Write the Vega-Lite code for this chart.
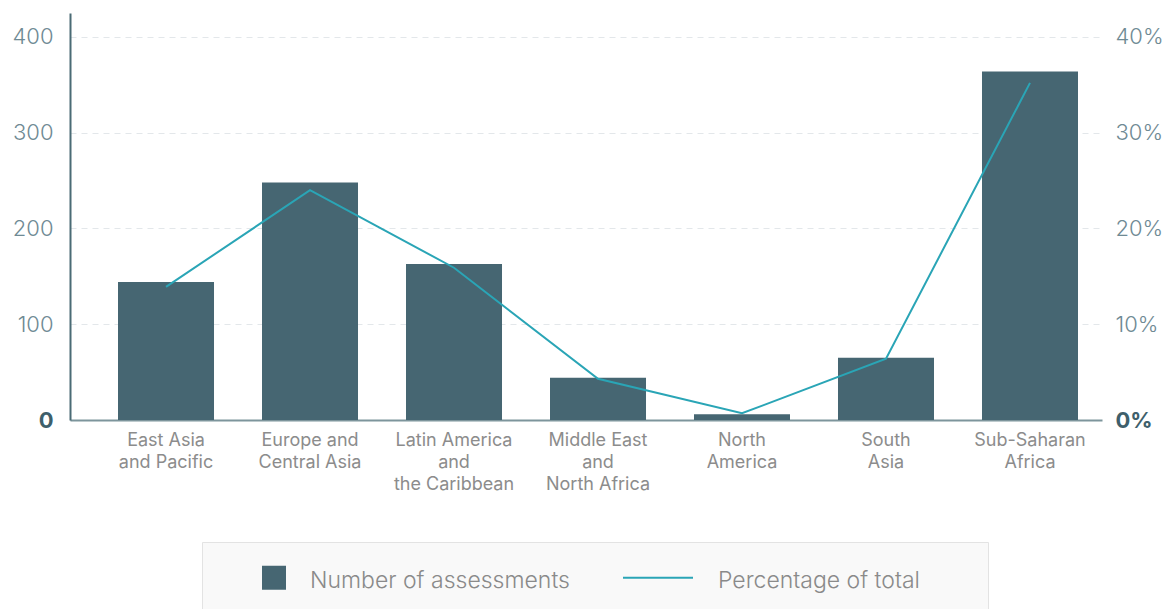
{
  "$schema": "https://vega.github.io/schema/vega-lite/v6.json",
  "autosize": {"type": "none"},
  "padding": {"left": 70, "top": 13, "right": 63, "bottom": 189},
  "width": 1032,
  "height": 407,
  "background": "#ffffff",
  "config": {
    "view": {"stroke": null},
    "font": "Inter",
    "axis": {"labelFont": "Inter", "titleFont": "Inter"},
    "legend": {"labelFont": "Inter"}
  },
  "data": {
    "values": [
      {"region": "East Asia and Pacific", "count": 144, "pct": 0.139},
      {"region": "Europe and Central Asia", "count": 248, "pct": 0.240},
      {"region": "Latin America and the Caribbean", "count": 163, "pct": 0.159},
      {"region": "Middle East and North Africa", "count": 44, "pct": 0.043},
      {"region": "North America", "count": 6, "pct": 0.007},
      {"region": "South Asia", "count": 65, "pct": 0.064},
      {"region": "Sub-Saharan Africa", "count": 364, "pct": 0.352}
    ]
  },
  "encoding": {
    "x": {
      "field": "region",
      "type": "nominal",
      "sort": null,
      "scale": {"paddingInner": 0.3333, "paddingOuter": 0.25, "align": 0.6667},
      "axis": {
        "title": null,
        "labelAngle": 0,
        "ticks": false,
        "domain": true,
        "domainColor": "#7d959c",
        "domainWidth": 2,
        "labelFontSize": 18,
        "labelColor": "#8c8c8c",
        "labelLineHeight": 22,
        "labelPadding": 11,
        "labelBaseline": "top",
        "labelLimit": 400,
        "labelExpr": "datum.label == 'East Asia and Pacific' ? ['East Asia','and Pacific'] : datum.label == 'Europe and Central Asia' ? ['Europe and','Central Asia'] : datum.label == 'Latin America and the Caribbean' ? ['Latin America','and','the Caribbean'] : datum.label == 'Middle East and North Africa' ? ['Middle East','and','North Africa'] : datum.label == 'North America' ? ['North','America'] : datum.label == 'South Asia' ? ['South','Asia'] : ['Sub-Saharan','Africa']"
      }
    }
  },
  "layer": [
    {
      "mark": {"type": "bar", "color": "#466672"},
      "encoding": {
        "y": {
          "field": "count",
          "type": "quantitative",
          "scale": {"domain": [0, 425], "nice": false},
          "axis": {
            "title": null,
            "orient": "left",
            "values": [0, 100, 200, 300, 400],
            "ticks": false,
            "domain": true,
            "domainColor": "#4a6b75",
            "domainWidth": 2,
            "grid": true,
            "gridColor": "#e3e7ea",
            "gridDash": [6, 5],
            "gridWidth": 1,
            "labelFontSize": 22,
            "labelPadding": 17,
            "labelColor": {"condition": {"test": "datum.value === 0", "value": "#3e5f6b"}, "value": "#6f8a94"},
            "labelFontWeight": {"condition": {"test": "datum.value === 0", "value": "bold"}, "value": 300}
          }
        },
        "color": {
          "datum": "Number of assessments",
          "type": "nominal",
          "scale": {"domain": ["Number of assessments", "Percentage of total"], "range": ["#466672", "#2aa5b6"]},
          "legend": {
            "title": "\u00a0",
            "titleOrient": "right",
            "titlePadding": 44,
            "titleFontSize": 10,
            "orient": "none",
            "legendX": 132,
            "legendY": 529,
            "direction": "horizontal",
            "fillColor": "#f9f9f9",
            "strokeColor": "#e3e3e3",
            "padding": 24,
            "labelFontSize": 23,
            "labelColor": "#8a8a8a",
            "labelFontWeight": 300,
            "labelLimit": 500,
            "columnPadding": 49,
            "symbolSize": 576,
            "labelOffset": 24,
            "encode": {
              "symbols": {
                "update": {
                  "shape": {"signal": "datum.value === 'Percentage of total' ? 'stroke' : 'square'"},
                  "size": {"signal": "datum.value === 'Percentage of total' ? 4900 : 576"},
                  "x": {"signal": "datum.value === 'Percentage of total' ? 35 : 48"},
                  "fill": {"signal": "datum.value === 'Percentage of total' ? 'transparent' : '#466672'"},
                  "stroke": {"signal": "datum.value === 'Percentage of total' ? '#2aa5b6' : 'transparent'"},
                  "strokeWidth": {"signal": "datum.value === 'Percentage of total' ? 2 : 0"},
                  "opacity": {"value": 1}
                }
              },
              "labels": {
                "update": {
                  "x": {"signal": "datum.value === 'Percentage of total' ? 95 : 84"},
                  "dy": {"value": 3}
                }
              }
            }
          }
        }
      }
    },
    {
      "mark": {"type": "line", "strokeWidth": 2},
      "encoding": {
        "y": {
          "field": "pct",
          "type": "quantitative",
          "scale": {"domain": [0, 0.425], "nice": false},
          "axis": {
            "title": null,
            "orient": "right",
            "values": [0, 0.1, 0.2, 0.3, 0.4],
            "format": ".0%",
            "ticks": false,
            "domain": false,
            "grid": false,
            "labelFontSize": 22,
            "labelPadding": 13,
            "labelColor": {"condition": {"test": "datum.value === 0", "value": "#3e5f6b"}, "value": "#6f8a94"},
            "labelFontWeight": {"condition": {"test": "datum.value === 0", "value": "bold"}, "value": 300}
          }
        },
        "color": {"datum": "Percentage of total", "type": "nominal"}
      }
    }
  ],
  "resolve": {"scale": {"y": "independent"}}
}
